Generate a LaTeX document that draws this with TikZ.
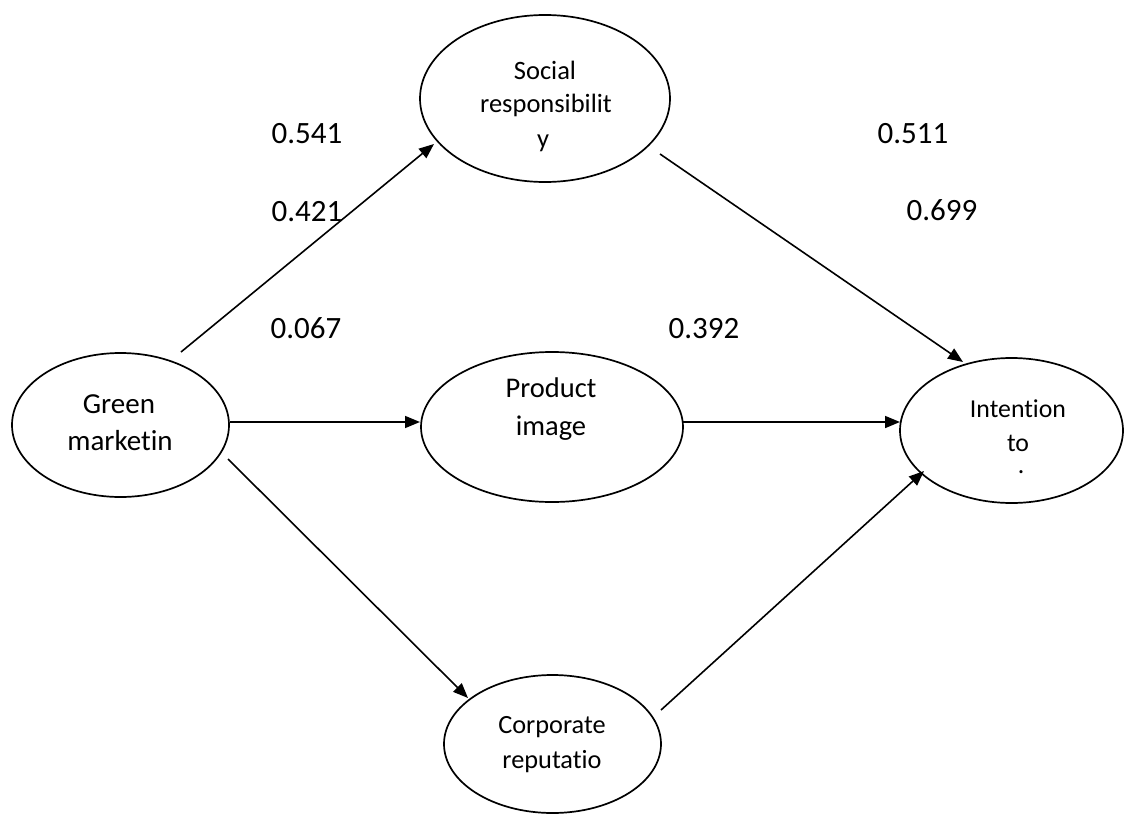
\documentclass[tikz,border=0pt]{standalone}
\usepackage{fontspec}
\setmainfont{Carlito}[Ligatures=NoCommon]
\usetikzlibrary{arrows.meta,calc,shapes.geometric}
\begin{document}
\begin{tikzpicture}[x=1pt,y=-1pt,
  ell/.style={draw, ellipse, line width=1.7pt, inner sep=0pt, outer sep=0pt},
  conn/.style={line width=1.6pt, -{Triangle[length=15pt,width=12pt]}},
  lbl/.style={anchor=base, inner sep=0pt},
  num/.style={anchor=base, inner sep=0pt, font=\fontsize{31}{37}\selectfont}]
\useasboundingbox (0,0) rectangle (1125,814);
% ellipses
\node[ell, minimum width=217pt, minimum height=144pt] (G) at (120.5,425) {};
\node[ell, minimum width=250pt, minimum height=167pt] (S) at (545,98.5) {};
\node[ell, minimum width=262pt, minimum height=150pt] (P) at (552,427) {};
\node[ell, minimum width=223pt, minimum height=145pt] (I) at (1011.5,430.5) {};
\node[ell, minimum width=217pt, minimum height=138pt] (C) at (552.5,744) {};
% ellipse texts
\begin{scope}[lbl/.append style={font=\fontsize{26.5}{32}\selectfont}]
\node[lbl] (s1) at (545,79) {Social};
\node[lbl] (s2) at (546,112) {responsibilit};
\node[lbl] (s3) at (543,147) {y};
\end{scope}
\node[inner sep=0pt, anchor=north, align=center, font=\fontsize{25.8}{34}\selectfont]
  (it) at (1018,399.5) {Intention\\to\\[-12pt]\hspace*{6pt}.};
\begin{scope}[lbl/.append style={font=\fontsize{29}{35}\selectfont}]
\node[lbl] (g1) at (119,413) {Green};
\node[lbl] (g2) at (120,450) {marketin};
\end{scope}
\begin{scope}[lbl/.append style={font=\fontsize{28.5}{34}\selectfont}]
\node[lbl] (p1) at (551,397) {Product};
\node[lbl] (p2) at (551,435) {image};
\end{scope}
\begin{scope}[lbl/.append style={font=\fontsize{26.3}{32}\selectfont}]
\node[lbl] (c1) at (552,733) {Corporate};
\node[lbl] (c2) at (552,768) {reputatio};
\end{scope}
% connectors
\draw[conn] ($(G.center)+(60.5,-73)$) -- ($(S.center)+(-111,45.5)$);
\draw[conn] ($(G.center)+(109.5,-3)$) -- ($(P.center)+(-132,-5)$);
\draw[conn] ($(G.center)+(107.5,34)$) -- ($(C.center)+(-84.5,-46)$);
\draw[conn] ($(S.center)+(115,55.5)$) -- ($(I.center)+(-48.5,-68.5)$);
\draw[conn] ($(P.center)+(131,-5)$) -- ($(I.center)+(-111.5,-8.5)$);
\draw[conn] ($(C.center)+(108.5,-34)$) -- ($(I.center)+(-87.5,40.5)$);
% coefficients
\node[num] (n1) at (307,143) {0.541};
\node[num] (n2) at (307,221) {0.421};
\node[num] (n3) at (306,338) {0.067};
\node[num] (n4) at (704,338) {0.392};
\node[num] (n5) at (913,143) {0.511};
\node[num] (n6) at (942,220) {0.699};
\end{tikzpicture}
\end{document}
